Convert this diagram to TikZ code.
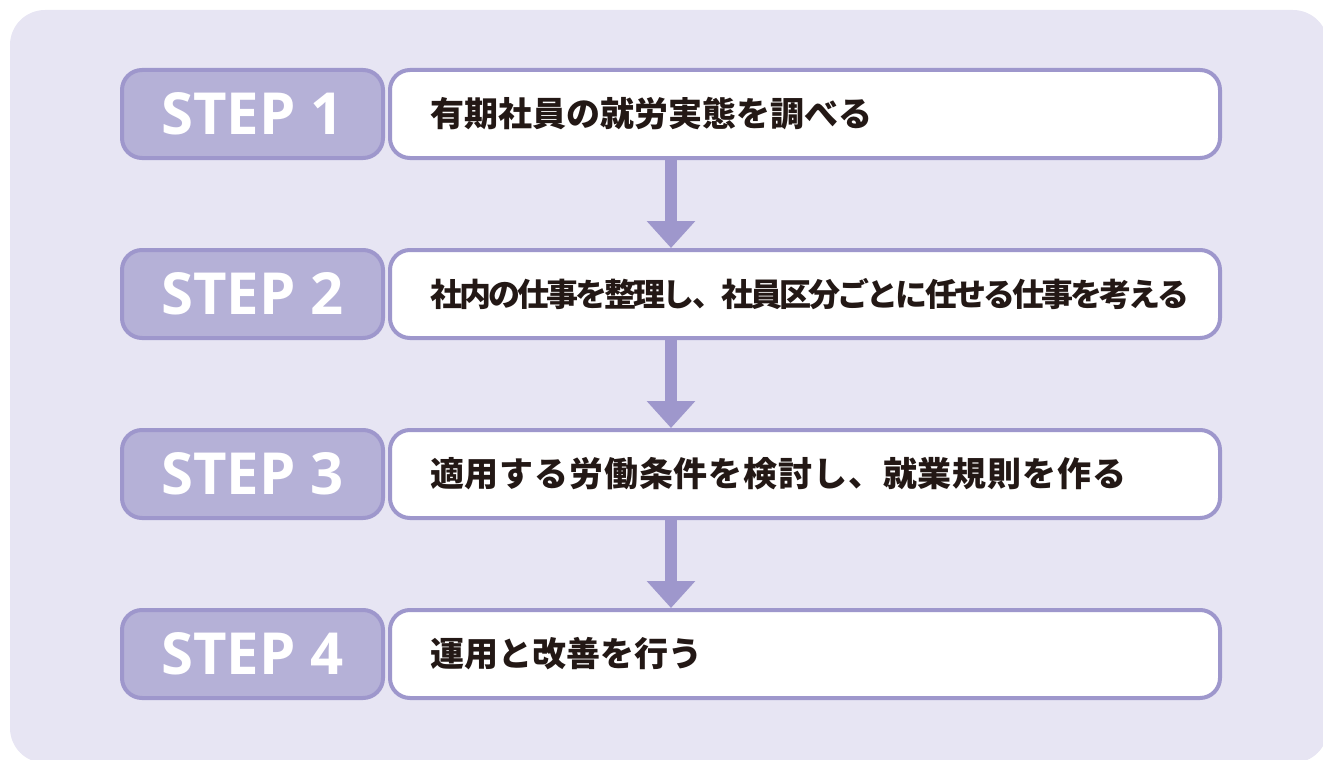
\documentclass[tikz,border=0pt]{standalone}
\usepackage{fontspec}
\usetikzlibrary{positioning,arrows.meta}
\newfontfamily\jpfont{Noto Sans CJK JP}
\newfontfamily\stepfont{Open Sans}
\definecolor{panelbg}{HTML}{E7E5F3}
\definecolor{stepfill}{HTML}{B5B1D7}
\definecolor{stepline}{HTML}{9E97CC}
\definecolor{jpblack}{HTML}{231815}
\tikzset{
  stepbox/.style={draw=stepline, fill=stepfill, line width=4pt, rounded corners=20pt,
    minimum width=261pt, minimum height=88pt, inner sep=0pt,
    text=white, font=\stepfont\bfseries\fontsize{58}{60}\selectfont},
  taskbox/.style={draw=stepline, fill=white, line width=4pt, rounded corners=20pt,
    minimum height=88pt, text width=750pt, inner xsep=40pt, inner ysep=0pt, align=left,
    text=jpblack, font=\jpfont\bfseries\fontsize{34}{36}\selectfont}, 
  flowarrow/.style={stepline, line width=12pt, -{Triangle[width=47pt,length=27pt]}}
}
\begin{document}
\begin{tikzpicture}[x=1pt,y=-1pt]
  \useasboundingbox (0,0) rectangle (1323,760);
  % background panel
  \fill[panelbg, rounded corners=35pt] (10,10) rectangle (1328,763);

  % steps
  \node[stepbox] (s1) at (252.5,114) {STEP 1};
  \node[taskbox, right=3pt of s1] (t1) {有期社員の就労実態を調べる};

  \node[stepbox, below=88pt of s1] (s2) {STEP 2};
  \node[taskbox, right=3pt of s2] (t2) {\fontsize{32}{34}\selectfont\addfontfeature{LetterSpace=-9}社内の仕事を整理し、社員区分ごとに任せる仕事を考える};

  \node[stepbox, below=88pt of s2] (s3) {STEP 3};
  \node[taskbox, right=3pt of s3] (t3) {\addfontfeature{LetterSpace=2.5}適用する労働条件を検討し、就業規則を作る};

  \node[stepbox, below=88pt of s3] (s4) {STEP 4};
  \node[taskbox, right=3pt of s4] (t4) {運用と改善を行う};

  % arrows between steps
  \coordinate (ax) at (671,0);
  \foreach \a/\b in {t1/t2, t2/t3, t3/t4}
    \draw[flowarrow] (\a.south -| ax) -- (\b.north -| ax);
\end{tikzpicture}
\end{document}
